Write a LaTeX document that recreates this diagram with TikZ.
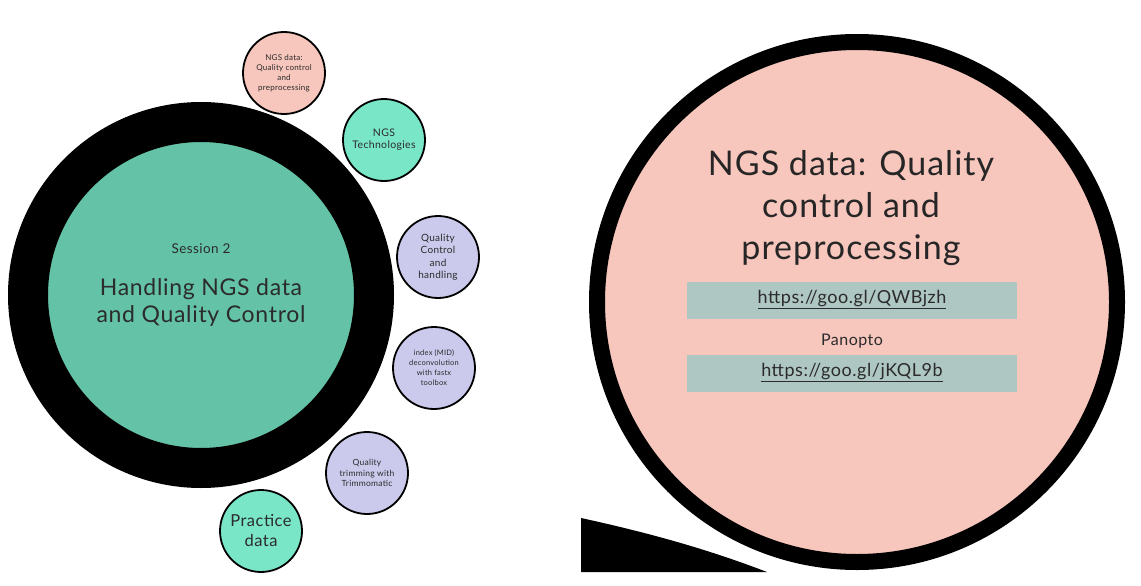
\documentclass[tikz,border=0pt]{standalone}
\usepackage{fontspec}
\setmainfont{Lato}[LetterSpace=3]
\definecolor{biggreen}{HTML}{64C2A6}
\definecolor{teal}{HTML}{7AE6C8}
\definecolor{pinkf}{HTML}{F7C6BC}
\definecolor{lav}{HTML}{CBCAEC}
\definecolor{boxgray}{HTML}{AFC7C3}
\definecolor{txt}{HTML}{2B2B2B}
\newcommand\fsz[2]{\fontsize{#1}{#2}\selectfont}
\begin{document}
\begin{tikzpicture}[x=1pt,y=-1pt,
  smallc/.style={circle, draw=black, line width=1.8pt, minimum size=82pt, inner sep=0pt, align=center, text=txt},
  pinkc/.style={smallc, fill=pinkf},
  tealc/.style={smallc, fill=teal},
  lavc/.style={smallc, fill=lav},
  urlbox/.style={rectangle, fill=boxgray, minimum width=330pt, minimum height=37pt, inner sep=0pt, text=txt, font=\fsz{18}{20}},
  lbl/.style={align=center, text=txt, inner sep=0pt}]
\useasboundingbox (0,0) rectangle (1141,586);
% left big circle
\node[circle, draw=black, line width=40pt, fill=biggreen, minimum size=346pt, inner sep=0pt] (big) at (201,295) {};
\node[lbl, font=\fsz{13.5}{15}] (session) at (201,249) {Session 2};
\node[lbl, font=\fsz{23}{27}] (title) at (201,302) {Handling NGS data\\and Quality Control};
% small circles
\node[pinkc, font=\fsz{8}{10}] (c1) at (284,73) {NGS data:\\Quality control\\and\\preprocessing};
\node[tealc, font=\fsz{10.5}{12}] (c2) at (384,140) {NGS\\Technologies};
\node[lavc, font=\fsz{10}{12.5}] (c3) at (438,257) {Quality\\Control\\and\\handling};
\node[lavc, font=\fsz{7.5}{10}] (c4) at (434,368) {index (MID)\\deconvolution\\with fastx\\toolbox};
\node[lavc, font=\fsz{8.5}{10.5}] (c5) at (367,473) {Quality\\trimming with\\Trimmomatic};
\node[tealc, font=\fsz{16.5}{20}] (c6) at (261,531) {Practice\\data};
% right panel
\fill[black] (581,518) .. controls (650,533) and (710,550) .. (767,572) -- (581,572) -- cycle;
\node[circle, draw=black, line width=16pt, fill=pinkf, minimum size=520pt, inner sep=0pt] (rbig) at (857,302) {};
\node[lbl, font=\fsz{34}{42}, text=black!85] (rtitle) at (851,208) {NGS data: Quality\\control and\\preprocessing};
\node[urlbox] (u1) at (852,300) {\underline{https://goo.gl/QWBjzh}};
\node[lbl, font=\fsz{16}{18}] (pan) at (852,341) {Panopto};
\node[urlbox] (u2) at (852,373) {\underline{https://goo.gl/jKQL9b}};
\end{tikzpicture}
\end{document}
